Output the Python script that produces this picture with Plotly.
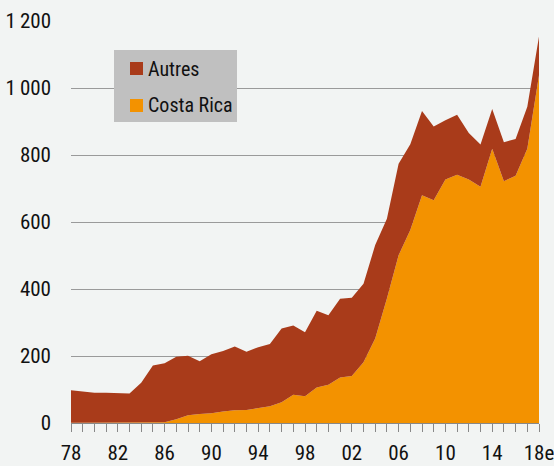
import plotly.graph_objects as go

years = list(range(1978, 2019))
costa_rica = [1, 1, 1, 1, 1, 1, 2, 2, 2, 11, 23, 27, 29, 34, 38, 39, 45, 50,
              62, 84, 80, 106, 114, 136, 140, 181, 252, 372, 501, 576, 680, 665,
              727, 741, 727, 705, 819, 722, 738, 819, 1038]
total = [98, 93, 90, 90, 90, 88, 120, 172, 178, 198, 201, 184, 205, 215, 228, 213,
         226, 236, 282, 291, 271, 335, 322, 371, 374, 416, 531, 610, 774, 832, 931,
         885, 904, 920, 866, 831, 937, 838, 848, 944, 1154]
autres = [t - c for t, c in zip(total, costa_rica)]

y_tickvals = [0, 200, 400, 600, 800, 1000, 1200]
y_ticktext = ["0", "200", "400", "600", "800", "1\u2009000", "1\u2009200"]
x_ticktext = [("18e" if y == 2018 else f"{y % 100:02d}") if (y - 1978) % 4 == 0 else "" for y in years]

ORANGE = "#f39200"
RED = "#a93b1a"
BG = "#f2f4f3"
FONT = "Roboto Condensed, Liberation Sans Narrow, sans-serif"

fig = go.Figure()
fig.add_trace(go.Scatter(x=years, y=costa_rica, name="Costa Rica", mode="lines",
                         line=dict(width=0, color=ORANGE), fillcolor=ORANGE,
                         stackgroup="one", showlegend=False, hoverinfo="x+y"))
fig.add_trace(go.Scatter(x=years, y=autres, name="Autres", mode="lines",
                         line=dict(width=0, color=RED), fillcolor=RED,
                         stackgroup="one", showlegend=False, hoverinfo="x+y"))

fig.update_layout(
    width=554, height=466,
    margin=dict(l=71, r=15, t=21, b=43, autoexpand=False),
    paper_bgcolor=BG, plot_bgcolor=BG,
    font=dict(family=FONT, size=20, color="#111111"),
    xaxis=dict(range=[1978, 2018], tickvals=years, ticktext=x_ticktext,
               ticks="outside", ticklen=8, tickcolor="#888888", tickwidth=1,
               showgrid=False, showline=True, linecolor="#888888", linewidth=1,
               zeroline=False, tickfont=dict(size=21), ticklabelstandoff=3,
               ticklabeloverflow="allow", automargin=False),
    yaxis=dict(range=[0, 1200], tickvals=y_tickvals, ticktext=y_ticktext,
               showgrid=True, gridcolor="#9a9a9a", gridwidth=1, zeroline=False,
               showline=False, ticks="", tickfont=dict(size=21), ticklabelstandoff=19,
               ticklabeloverflow="allow", automargin=False),
    shapes=[
        dict(type="rect", xref="paper", yref="paper",
             x0=(114 - 71) / 468, x1=(237 - 71) / 468,
             y0=(423 - 122) / 402, y1=(423 - 50) / 402,
             fillcolor="#c0c0c0", line=dict(width=0), layer="above"),
        dict(type="rect", xref="paper", yref="paper",
             x0=(130 - 71) / 468, x1=(143 - 71) / 468,
             y0=(423 - 75) / 402, y1=(423 - 62) / 402,
             fillcolor=RED, line=dict(width=0), layer="above"),
        dict(type="rect", xref="paper", yref="paper",
             x0=(130 - 71) / 468, x1=(143 - 71) / 468,
             y0=(423 - 112) / 402, y1=(423 - 99) / 402,
             fillcolor=ORANGE, line=dict(width=0), layer="above"),
    ],
    annotations=[
        dict(text="Autres", xref="paper", yref="paper", x=(146 - 71) / 468,
             y=(423 - 68.5) / 402, xanchor="left", yanchor="middle",
             showarrow=False, font=dict(size=20)),
        dict(text="Costa Rica", xref="paper", yref="paper", x=(146 - 71) / 468,
             y=(423 - 105.5) / 402, xanchor="left", yanchor="middle",
             showarrow=False, font=dict(size=20)),
    ],
)

fig.write_html("out.html", config={"displayModeBar": False},
               post_script="document.body.style.margin='0';document.body.style.overflow='hidden';")
